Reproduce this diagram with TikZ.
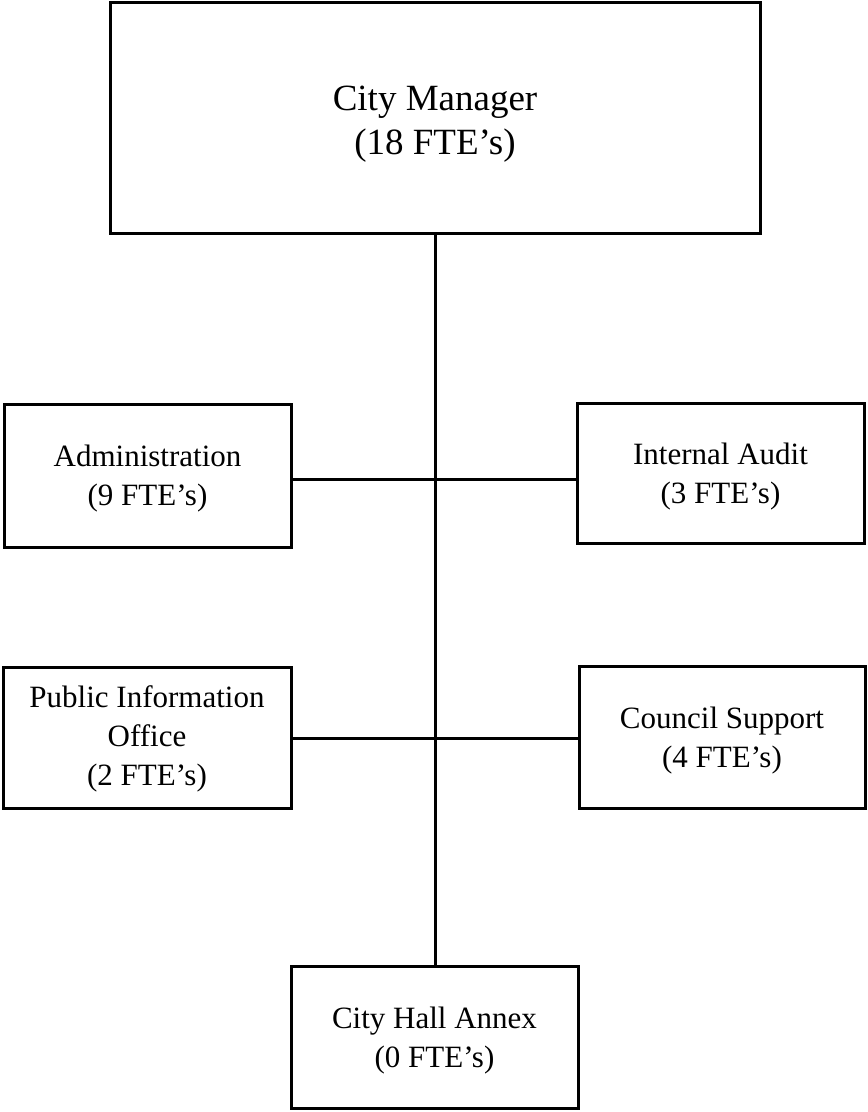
\documentclass[tikz,border=0pt]{standalone}
\usepackage{fontspec}
\setmainfont{Liberation Serif}
% centred stack of lines, lowered a little inside its box (box size kept)
\newcommand\boxlines[2][-3pt]{\raisebox{#1}[\height][\depth]{\begin{tabular}{@{}c@{}}#2\end{tabular}}}
\begin{document}
\begin{tikzpicture}[x=1pt,y=-1pt,
  unitbox/.style={draw=black, line width=3pt, rectangle, inner sep=0pt,
    font=\fontsize{31}{39}\selectfont},
  topbox/.style={unitbox, font=\fontsize{37}{44}\selectfont},
  link/.style={draw=black, line width=3pt}]
  \useasboundingbox (0,0) rectangle (868,1112);

  % boxes
  \node[topbox, minimum width=650pt, minimum height=231pt] (cm) at (435,117.5)
    {\boxlines[-6pt]{City Manager\\(18 FTE’s)}};
  \node[unitbox, minimum width=287pt, minimum height=143pt] (adm) at (147.5,475.5)
    {\boxlines{Administration\\(9 FTE’s)}};
  \node[unitbox, minimum width=287pt, minimum height=140pt] (ia) at (720.5,473)
    {\boxlines{Internal Audit\\(3 FTE’s)}};
  \node[unitbox, minimum width=288pt, minimum height=141pt] (pio) at (147,737.5)
    {\boxlines[-1pt]{Public Information\\Office\\(2 FTE’s)}};
  \node[unitbox, minimum width=286pt, minimum height=142pt] (cs) at (722,737)
    {\boxlines{Council Support\\(4 FTE’s)}};
  \node[unitbox, minimum width=287pt, minimum height=142pt] (cha) at (434.5,1037)
    {\boxlines{City Hall Annex\\(0 FTE’s)}};

  % trunk and branches
  \coordinate (j1) at (435,479);
  \coordinate (j2) at (435,738);
  \draw[link] (cm.south -| j1) -- (cha.north -| j1);
  \draw[link] (adm.east |- j1) -- (ia.west |- j1);
  \draw[link] (pio.east |- j2) -- (cs.west |- j2);
\end{tikzpicture}
\end{document}
